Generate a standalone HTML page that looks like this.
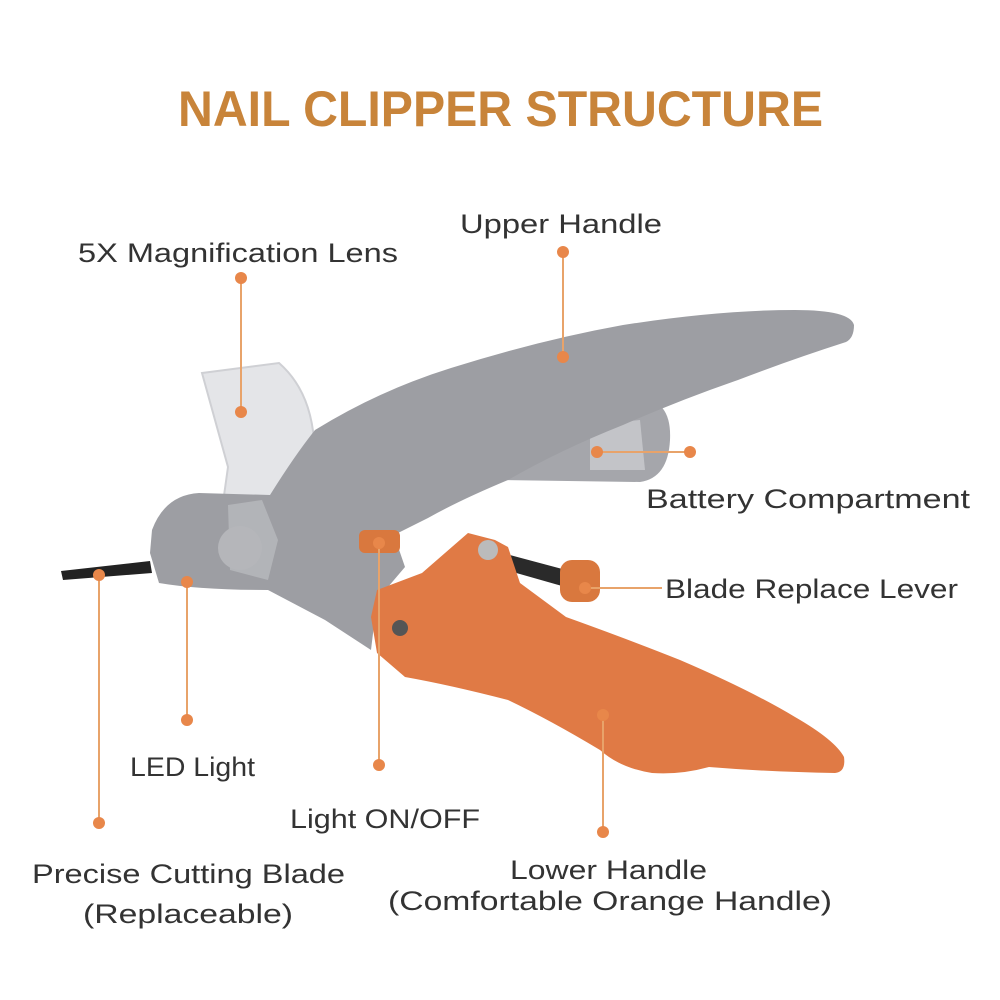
<!DOCTYPE html>
<html><head><meta charset="utf-8"><style>
html,body{margin:0;padding:0;background:#fff;}
svg{display:block;}
text{font-family:"Liberation Sans",sans-serif;}
</style></head><body>
<svg width="1000" height="1000" viewBox="0 0 1000 1000" xmlns="http://www.w3.org/2000/svg">
<rect width="1000" height="1000" fill="#fff"/>
<text x="178" y="126" font-size="50" font-weight="bold" fill="#c8843a" textLength="645" lengthAdjust="spacingAndGlyphs">NAIL CLIPPER STRUCTURE</text>

<path d="M61,571 L150,561 L152,573 L63,580 Z" fill="#222"/>
<path d="M503,405 L640,398 Q672,400 670,440 Q668,478 640,482 L503,480 Z" fill="#a5a6ab"/>
<path d="M590,425 L640,420 L645,470 L590,470 Z" fill="#c3c4c8"/>
<path d="M202,373 L279,363 Q310,390 314,440 L268,533 L245,573 L216,553 L228,467 Z" fill="#e4e5e8" stroke="#cfd0d4" stroke-width="2"/>
<path d="M150,553 L152,530 Q165,495 199,493 L270,495 Q295,455 315,430 Q380,390 451,368 Q540,340 623,325 Q720,310 795,310 Q850,310 854,325 Q854,338 846,342 Q790,360 738,380 Q680,400 623,425 Q560,450 508,480 Q460,500 428,518 Q400,532 394,535 L405,567 L377,600 L371,650 L325,620 L268,590 Q200,590 159,583 Z" fill="#9d9ea3"/>
<path d="M228,505 L262,500 L278,540 L268,580 L230,570 Z" fill="#b8b9bd" opacity="0.8"/>
<circle cx="240" cy="548" r="22" fill="#b5b6ba"/>
<rect x="359" y="530" width="41" height="23" rx="6" fill="#d9783e"/>
<path d="M491,550 L566,570 L562,586 L488,565 Z" fill="#2a2a2a"/>
<rect x="560" y="560" width="40" height="42" rx="12" fill="#d9783e"/>
<path d="M377,590 L422,573 L468,533 L495,540 L508,547 L520,583 L566,617 Q630,640 680,660 Q750,690 795,717 Q835,740 844,757 Q846,772 835,773 Q770,772 709,767 Q680,775 652,773 Q620,768 600,750 Q550,720 508,700 Q450,685 405,677 L377,653 L371,617 Z" fill="#e07a45"/>
<circle cx="488" cy="550" r="10" fill="#bbb"/>
<circle cx="400" cy="628" r="8" fill="#555"/>

<g stroke="#e8a36a" stroke-width="2" fill="none">
<line x1="241" y1="278" x2="241" y2="412"/>
<line x1="563" y1="252" x2="563" y2="357"/>
<line x1="597" y1="452" x2="690" y2="452"/>
<line x1="585" y1="588" x2="662" y2="588"/>
<line x1="187" y1="582" x2="187" y2="720"/>
<line x1="379" y1="543" x2="379" y2="765"/>
<line x1="99" y1="575" x2="99" y2="823"/>
<line x1="603" y1="715" x2="603" y2="832"/>
</g>
<g fill="#e8874a">
<circle cx="241" cy="278" r="6"/><circle cx="241" cy="412" r="6"/>
<circle cx="563" cy="252" r="6"/><circle cx="563" cy="357" r="6"/>
<circle cx="597" cy="452" r="6"/><circle cx="690" cy="452" r="6"/>
<circle cx="585" cy="588" r="6"/>
<circle cx="187" cy="582" r="6"/><circle cx="187" cy="720" r="6"/>
<circle cx="379" cy="543" r="6"/><circle cx="379" cy="765" r="6"/>
<circle cx="99" cy="575" r="6"/><circle cx="99" cy="823" r="6"/>
<circle cx="603" cy="715" r="6"/><circle cx="603" cy="832" r="6"/>
</g>

<g fill="#333" font-size="27">
<text x="78" y="262" textLength="320" lengthAdjust="spacingAndGlyphs">5X Magnification Lens</text>
<text x="460" y="233" textLength="202" lengthAdjust="spacingAndGlyphs">Upper Handle</text>
<text x="646" y="508" textLength="324" lengthAdjust="spacingAndGlyphs">Battery Compartment</text>
<text x="665" y="598" textLength="293" lengthAdjust="spacingAndGlyphs">Blade Replace Lever</text>
<text x="130" y="776" textLength="125" lengthAdjust="spacingAndGlyphs">LED Light</text>
<text x="290" y="828" textLength="190" lengthAdjust="spacingAndGlyphs">Light ON/OFF</text>
<text x="32" y="883" textLength="313" lengthAdjust="spacingAndGlyphs">Precise Cutting Blade</text>
<text x="83" y="923" textLength="210" lengthAdjust="spacingAndGlyphs">(Replaceable)</text>
<text x="510" y="879" textLength="197" lengthAdjust="spacingAndGlyphs">Lower Handle</text>
<text x="388" y="910" textLength="444" lengthAdjust="spacingAndGlyphs">(Comfortable Orange Handle)</text>
</g>
</svg>
</body></html>
